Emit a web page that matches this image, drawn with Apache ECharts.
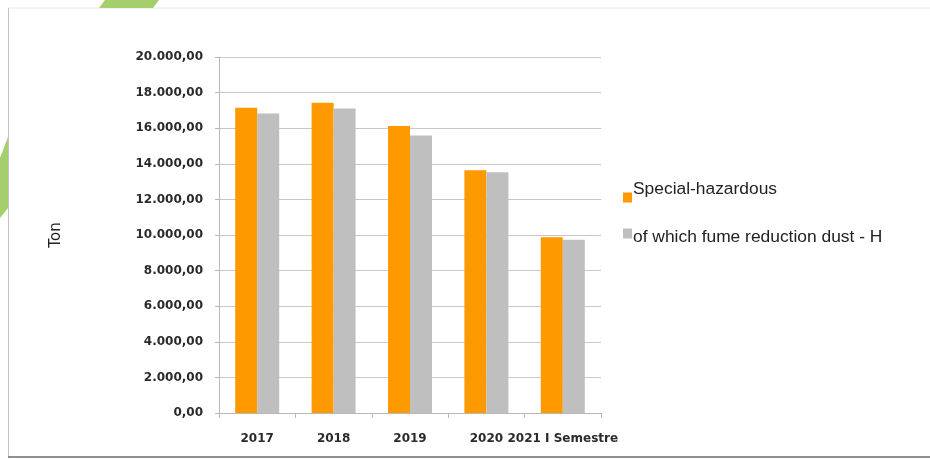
<!DOCTYPE html>
<html>
<head>
<meta charset="utf-8">
<script src="https://cdn.jsdelivr.net/npm/echarts@6/dist/echarts.min.js"></script>
<style>
  html, body { margin: 0; padding: 0; background: #fff; }
  #chart { width: 930px; height: 459px; }
</style>
</head>
<body>
<div id="chart"></div>
<script>
// Hazardous waste produced per year (tons)
const categories = ['2017', '2018', '2019', '2020', '2021 I Semestre'];
const specialHazardous = [17150, 17430, 16130, 13640, 9870];
const fumeReductionDust = [16830, 17110, 15590, 13520, 9740];
const seriesNames = ['Special-hazardous', 'of which fume reduction dust - H'];
const yTicks = { min: 0, max: 20000, interval: 2000 };

// 20000 -> "20.000,00"
function formatTon(v) {
  const intPart = Math.round(v).toString().replace(/\B(?=(\d{3})+(?!\d))/g, '.');
  return intPart + ',00';
}

// legend text sits above the first swatch and just below the second one
function legendLabel(name) {
  if (name === seriesNames[0]) return '{t|' + name + '}\n{s| }';
  return '{g| }\n{t|' + name + '}';
}

const chart = echarts.init(document.getElementById('chart'), null, { renderer: 'canvas' });

chart.setOption({
  backgroundColor: '#ffffff',
  animation: false,
  grid: { left: 219, top: 57, width: 382, height: 356, containLabel: false },
  graphic: [
    // page frame
    { type: 'line', shape: { x1: 8, y1: 8, x2: 930, y2: 8 }, style: { stroke: '#e6e6e6', lineWidth: 1 } },
    { type: 'line', shape: { x1: 8.5, y1: 8, x2: 8.5, y2: 457 }, style: { stroke: '#c4c4c4', lineWidth: 1 } },
    { type: 'line', shape: { x1: 8, y1: 457, x2: 930, y2: 457 }, style: { stroke: '#6b6b6b', lineWidth: 1.5 } },
    // green accents
    { type: 'polygon', shape: { points: [[105, 0], [159, 0], [153, 8], [99, 8]] }, style: { fill: '#a5cf6a' } },
    { type: 'polygon', shape: { points: [[0, 158], [8, 137], [8, 208], [0, 218]] }, style: { fill: '#a5cf6a' } }
  ],
  legend: {
    orient: 'vertical',
    left: 623,
    top: 181,
    padding: 0,
    itemWidth: 9,
    itemHeight: 10,
    itemGap: 9,
    icon: 'rect',
    selectedMode: false,
    data: seriesNames,
    formatter: legendLabel,
    textStyle: {
      fontFamily: 'Liberation Sans, Arial, sans-serif',
      fontSize: 17.4,
      color: '#222',
      rich: {
        t: { fontFamily: 'Liberation Sans, Arial, sans-serif', fontSize: 17.4, color: '#222', lineHeight: 20, padding: [0, 0, 0, -4] },
        s: { fontSize: 10, lineHeight: 16 },
        g: { fontSize: 4, lineHeight: 8 }
      }
    }
  },
  xAxis: {
    type: 'category',
    data: categories,
    boundaryGap: true,
    axisLine: { show: true, lineStyle: { color: '#b8b8b8', width: 1 } },
    axisTick: { show: true, length: 5, alignWithLabel: false, lineStyle: { color: '#b8b8b8' } },
    axisLabel: {
      interval: 0,
      margin: 20,
      fontFamily: 'DejaVu Sans, sans-serif',
      fontWeight: 'bold',
      fontSize: 12,
      color: '#2a2a2a'
    },
    splitLine: { show: false }
  },
  yAxis: {
    type: 'value',
    min: yTicks.min,
    max: yTicks.max,
    interval: yTicks.interval,
    name: 'Ton',
    nameLocation: 'middle',
    nameRotate: 90,
    nameGap: 155,
    nameTextStyle: {
      fontFamily: 'DejaVu Sans, sans-serif',
      fontSize: 15,
      color: '#222'
    },
    axisLine: { show: true, lineStyle: { color: '#b8b8b8', width: 1 } },
    axisTick: { show: true, length: 4, lineStyle: { color: '#b8b8b8' } },
    axisLabel: {
      margin: 16,
      formatter: formatTon,
      fontFamily: 'DejaVu Sans, sans-serif',
      fontWeight: 'bold',
      fontSize: 12,
      color: '#2a2a2a'
    },
    splitLine: { show: true, lineStyle: { color: '#c8c8c8', width: 1 } }
  },
  series: [
    {
      name: seriesNames[0],
      type: 'bar',
      data: specialHazardous,
      barWidth: 22,
      barGap: '0%',
      itemStyle: { color: '#ff9900' }
    },
    {
      name: seriesNames[1],
      type: 'bar',
      data: fumeReductionDust,
      barWidth: 22,
      itemStyle: { color: '#bfbfbf' }
    }
  ]
});
</script>
</body>
</html>
